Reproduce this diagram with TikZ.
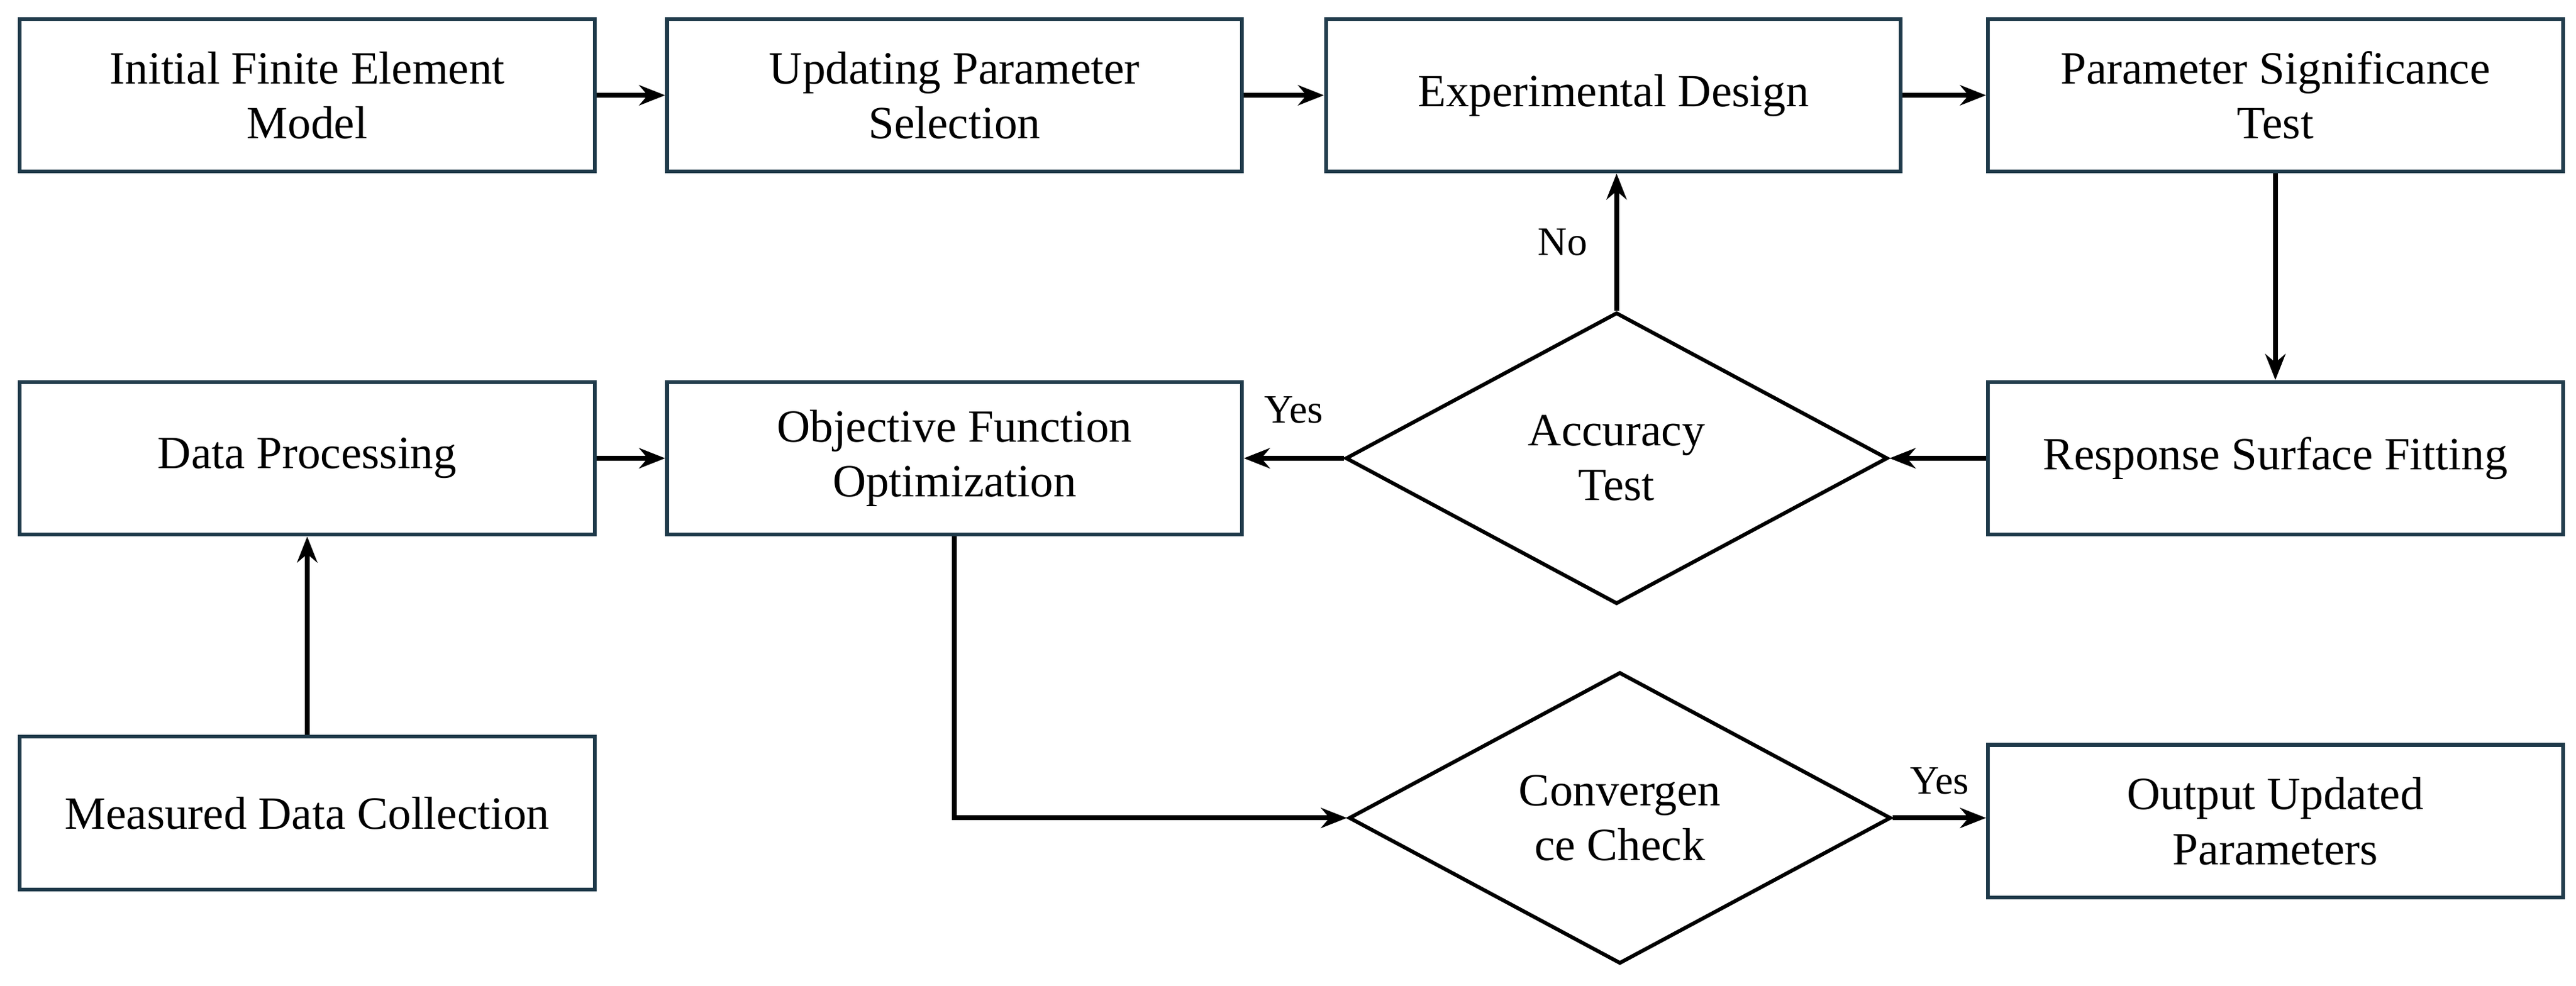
\documentclass[tikz,border=0pt]{standalone}
\usepackage{fontspec}
\setmainfont{Liberation Serif}
\usetikzlibrary{shapes.geometric,arrows.meta}
\definecolor{bd}{HTML}{1F3A4A}
\begin{document}
\begin{tikzpicture}[x=0.02cm,y=-0.02cm,
  box/.style={draw=bd,line width=1.3pt,minimum width=7cm,minimum height=1.86cm,align=center,font=\fontsize{16}{19}\selectfont},
  dia/.style={draw=black,line width=1.3pt,diamond,aspect=1.85,minimum width=6.6cm,minimum height=3.55cm,inner sep=0pt,align=center,font=\fontsize{16}{19}\selectfont},
  arr/.style={-{Stealth[length=9pt,width=7pt]},line width=1.7pt},
  lab/.style={font=\fontsize{14}{17}\selectfont}]
\useasboundingbox (0,0) rectangle (1568,600);
\node[box] (ifem) at (187,58) {Initial Finite Element\\Model};
\node[box] (ups) at (581,58) {Updating Parameter\\Selection};
\node[box] (ed) at (982,58) {Experimental Design};
\node[box] (pst) at (1385,58) {Parameter Significance\\Test};
\node[box] (dp) at (187,279) {Data Processing};
\node[box] (ofo) at (581,279) {Objective Function\\Optimization};
\node[dia] (at) at (984,279) {Accuracy\\Test};
\node[box] (rsf) at (1385,279) {Response Surface Fitting};
\node[box] (mdc) at (187,495) {Measured Data Collection};
\node[dia] (cc) at (986,498) {Convergen\\ce Check};
\node[box] (oup) at (1385,500) {Output Updated\\Parameters};
\draw[arr] (ifem) -- (ups);
\draw[arr] (ups) -- (ed);
\draw[arr] (ed) -- (pst);
\draw[arr] (pst) -- (rsf);
\draw[arr] (rsf) -- (at);
\draw[arr] (at) -- node[lab,above,pos=0.5,yshift=8pt]{Yes} (ofo);
\draw[arr] (at.north) -- node[lab,left,xshift=-6pt]{No} (ed.south -| at.north);
\draw[arr] (dp) -- (ofo);
\draw[arr] (mdc) -- (dp);
\draw[arr] (ofo.south) |- (cc.west);
\draw[arr] (cc.east) -- node[lab,above,yshift=4pt]{Yes} (oup.west |- cc.east);
\end{tikzpicture}
\end{document}
